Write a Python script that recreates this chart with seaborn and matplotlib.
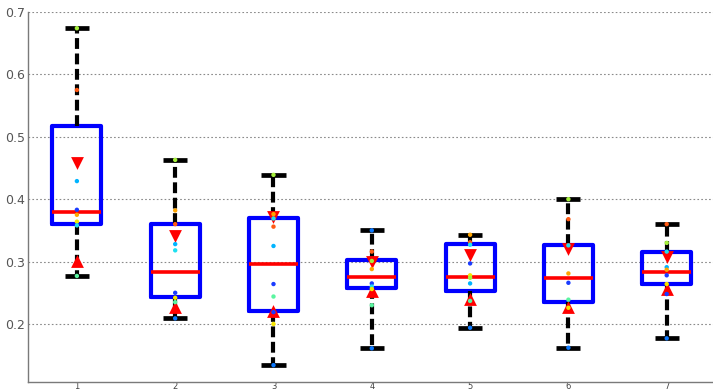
import matplotlib
matplotlib.use("Agg")
import matplotlib.pyplot as plt
import numpy as np
import pandas as pd
import seaborn as sns

# Group labels and box statistics
groups = [1, 2, 3, 4, 5, 6, 7]
medians = [0.379, 0.284, 0.296, 0.276, 0.275, 0.274, 0.283]
q1 = [0.360, 0.244, 0.221, 0.258, 0.253, 0.235, 0.264]
q3 = [0.518, 0.360, 0.370, 0.302, 0.328, 0.327, 0.316]
whisker_lo = [0.277, 0.209, 0.134, 0.161, 0.194, 0.162, 0.177]
whisker_hi = [0.674, 0.463, 0.439, 0.350, 0.343, 0.400, 0.360]

# Upper / lower spread markers per group
upper_marks = [0.458, 0.341, 0.371, 0.299, 0.311, 0.320, 0.308]
lower_marks = [0.301, 0.227, 0.221, 0.253, 0.240, 0.227, 0.256]

# Individual observations per group, with their colour class
obs_1 = [0.674, 0.575, 0.429, 0.383, 0.375, 0.364, 0.358, 0.277]
col_1 = ["lime", "red", "azure", "blue", "orange", "yellow", "cyan", "green"]
obs_2 = [0.463, 0.382, 0.360, 0.328, 0.318, 0.250, 0.242, 0.235, 0.209]
col_2 = ["lime", "orange", "red", "azure", "cyan", "blue", "yellow", "green", "mblue"]
obs_3 = [0.439, 0.376, 0.369, 0.356, 0.325, 0.264, 0.244, 0.219, 0.200, 0.134]
col_3 = ["lime", "orange", "cyan", "red", "azure", "blue", "green", "blue", "yellow", "mblue"]
obs_4 = [0.350, 0.316, 0.301, 0.288, 0.265, 0.260, 0.256, 0.230, 0.161]
col_4 = ["mblue", "red", "lime", "orange", "blue", "cyan", "yellow", "green", "mblue"]
obs_5 = [0.343, 0.331, 0.327, 0.297, 0.278, 0.274, 0.265, 0.237, 0.194]
col_5 = ["orange", "red", "cyan", "blue", "yellow", "lime", "azure", "green", "mblue"]
obs_6 = [0.400, 0.368, 0.326, 0.281, 0.266, 0.239, 0.226, 0.162]
col_6 = ["lime", "red", "cyan", "orange", "blue", "green", "yellow", "mblue"]
obs_7 = [0.360, 0.330, 0.316, 0.291, 0.287, 0.278, 0.264, 0.248, 0.177]
col_7 = ["red", "lime", "cyan", "azure", "orange", "blue", "yellow", "blue", "mblue"]

palette = {
    "blue": "#1a3cff",
    "mblue": "#0a78ff",
    "azure": "#00b4ff",
    "cyan": "#1ee0f0",
    "green": "#5af5a0",
    "lime": "#a5f03c",
    "yellow": "#f5e600",
    "orange": "#ffa500",
    "red": "#ff5a14",
}

obs_all = [obs_1, obs_2, obs_3, obs_4, obs_5, obs_6, obs_7]
col_all = [col_1, col_2, col_3, col_4, col_5, col_6, col_7]
points = pd.DataFrame(
    [(g, v, c) for g, vals, cols in zip(groups, obs_all, col_all) for v, c in zip(vals, cols)],
    columns=["group", "value", "kind"],
)

sns.set_style("white")
plt.rcParams["font.family"] = ["DejaVu Sans"]

fig = plt.figure(figsize=(7.13, 3.91), dpi=100)
ax = fig.add_axes([0.0389, 0.0238, 0.9651, 0.9455])

stats = [
    dict(med=m, q1=a, q3=b, whislo=lo, whishi=hi, fliers=[])
    for m, a, b, lo, hi in zip(medians, q1, q3, whisker_lo, whisker_hi)
]
ax.bxp(
    stats,
    positions=groups,
    widths=0.5,
    capwidths=0.245,
    showfliers=False,
    boxprops=dict(color="#0000ff", lw=3),
    medianprops=dict(color="#ff0000", lw=2.6, solid_capstyle="butt"),
    whiskerprops=dict(color="black", lw=3, linestyle=(0, (2.6, 1.1)),
                      dash_capstyle="butt"),
    capprops=dict(color="black", lw=3.4, solid_capstyle="butt"),
    zorder=2,
)

sns.scatterplot(x=groups, y=upper_marks, marker="v", s=85, color="#ff0000",
                linewidth=0, ax=ax, zorder=4)
sns.scatterplot(x=groups, y=lower_marks, marker="^", s=85, color="#ff0000",
                linewidth=0, ax=ax, zorder=4)
sns.scatterplot(data=points, x="group", y="value", hue="kind", palette=palette,
                s=10, linewidth=0, legend=False, ax=ax, zorder=5)

ax.set_xlim(0.5, 7.5)
ax.set_ylim(0.1075, 0.7)
ax.set_xticks(groups)
ax.set_xticklabels([str(g) for g in groups])
ax.set_yticks([0.2, 0.3, 0.4, 0.5, 0.6, 0.7])
ax.set_yticklabels(["0.2", "0.3", "0.4", "0.5", "0.6", "0.7"])
ax.set_xlabel("")
ax.set_ylabel("")

ax.yaxis.grid(True, linestyle=(0, (1.5, 2.0)), color="#8a8a8a", lw=0.8)
ax.xaxis.grid(False)
ax.set_axisbelow(True)

for side in ["top", "right"]:
    ax.spines[side].set_visible(False)
for side in ["left", "bottom"]:
    ax.spines[side].set_color("#7a7a7a")
    ax.spines[side].set_linewidth(1.0)

ax.tick_params(axis="y", length=0, pad=2, labelsize=9, labelcolor="#555555")
ax.tick_params(axis="x", length=0, pad=0.5, labelsize=6, labelcolor="#444444")

fig.savefig("out.png", dpi=100)
